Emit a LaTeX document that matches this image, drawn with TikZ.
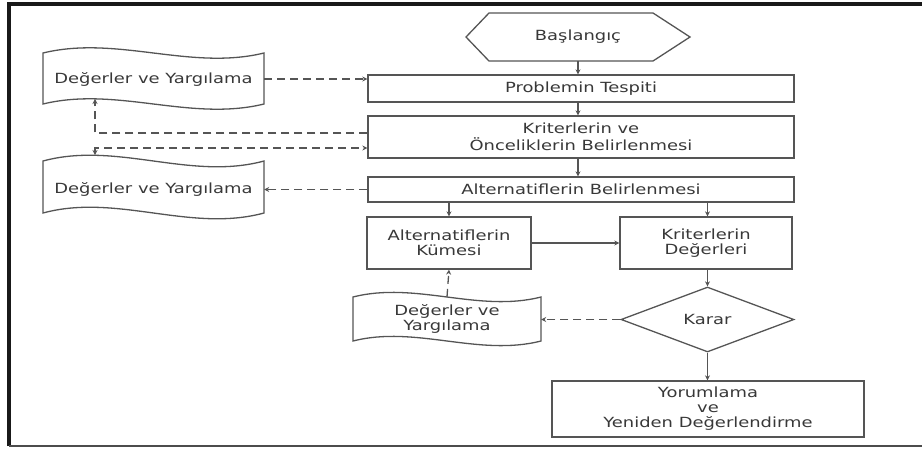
\documentclass[tikz,border=0pt]{standalone}
\usepackage{fontspec}
\setmainfont{DejaVu Sans}[FakeStretch=1.28]
\usetikzlibrary{arrows.meta,shapes.geometric}
\definecolor{ln}{HTML}{555555}
\definecolor{tx}{HTML}{383838}
\tikzset{
  shapeline/.style={draw=ln, line width=1.3pt},
  boxnode/.style={shapeline, rectangle, inner sep=0pt, align=center, text=tx, font=\fontsize{14}{15}\selectfont},
  plainnode/.style={inner sep=0pt, align=center, text=tx, font=\fontsize{14}{15}\selectfont},
  conn/.style={draw=ln, line width=1.3pt, -{Stealth[length=5pt,width=5pt]}},
  dconn/.style={conn, dash pattern=on 8pt off 5pt},
}
\newcommand\wavebox[5]{%
  \draw[shapeline] (#1,#3) .. controls ({#1+(#2-#1)/3},{#3-#5}) and ({#1+2*(#2-#1)/3},{#3+#5}) .. (#2,#3)
    -- (#2,#4) .. controls ({#1+2*(#2-#1)/3},{#4+#5}) and ({#1+(#2-#1)/3},{#4-#5}) .. (#1,#4) -- cycle;}
\begin{document}
\begin{tikzpicture}[x=1pt,y=-1pt]
\useasboundingbox (0,0) rectangle (922,448);
% frame
\draw[line width=4pt, black!90] (9,446) -- (9,4) -- (922,4);
\draw[line width=2pt, black!70] (9,446) -- (922,446);

% start hexagon
\draw[shapeline] (466,37) -- (489,13) -- (653,13) -- (690,37) -- (653,61) -- (489,61) -- cycle;
\node[plainnode, minimum width=224pt, minimum height=48pt] (start) at (578,37) {Başlangıç};

% main boxes
\node[boxnode, minimum width=426pt, minimum height=27pt] (P) at (581,88.5) {Problemin Tespiti};
\node[boxnode, minimum width=426pt, minimum height=42pt, font=\fontsize{14}{17}\selectfont] (K) at (581,137) {Kriterlerin ve\\Önceliklerin Belirlenmesi};
\node[boxnode, minimum width=426pt, minimum height=25pt] (A) at (581,189.5) {Alternatiflerin Belirlenmesi};
\node[boxnode, minimum width=164pt, minimum height=52pt] (AK) at (449,243) {Alternatiflerin\\Kümesi};
\node[boxnode, minimum width=172pt, minimum height=52pt] (KD) at (706,243) {Kriterlerin\\Değerleri};
\node[boxnode, diamond, minimum width=173pt, minimum height=65pt] (KR) at (707.5,319.5) {Karar};
\node[boxnode, minimum width=312pt, minimum height=56pt] (Y) at (708,409) {Yorumlama\\ve\\Yeniden Değerlendirme};

% wave shapes
\wavebox{43}{264}{53}{104}{18}
\node[plainnode, minimum width=221pt, minimum height=51pt] (W1) at (153.5,79) {Değerler ve Yargılama};
\wavebox{43}{264}{161}{213}{20}
\node[plainnode, minimum width=221pt, minimum height=52pt] (W2) at (153.5,189) {Değerler ve Yargılama};
\wavebox{353}{541}{297}{341}{16}
\node[plainnode, minimum width=188pt, minimum height=44pt] (W3) at (447,319) {Değerler ve\\Yargılama};

\coordinate (w1b) at (95,99);
\coordinate (w2t) at (95,155);

% solid connectors
\draw[conn] (start.south) -- (P.north -| start.south);
\draw[conn] (P.south -| start.south) -- (K.north -| start.south);
\draw[conn] (K.south -| start.south) -- (A.north -| start.south);
\draw[conn] (A.south -| AK.north) -- (AK.north);
\draw[conn] (A.south -| KR.north) -- (KR.north |- KD.north);
\draw[conn] (AK.east) -- (KD.west);
\draw[conn] (KR.north |- KD.south) -- (KR.north);
\draw[conn] (KR.south) -- (KR.south |- Y.north);

% dashed connectors
\draw[dconn] (W1.east |- 0,79) -- (P.west |- 0,79);
\draw[dconn] (K.west |- 0,133) -| (w1b);
\draw[dconn, {Stealth[length=5pt,width=5pt]}-{Stealth[length=5pt,width=5pt]}] (w2t) |- (K.west |- 0,148);
\draw[dconn] (A.west) -- (W2.east |- A.west);
\draw[dconn] (KR.west) -- (W3.east |- KR.west);
\draw[dconn] (W3.north) -- (AK.south);
\end{tikzpicture}
\end{document}
